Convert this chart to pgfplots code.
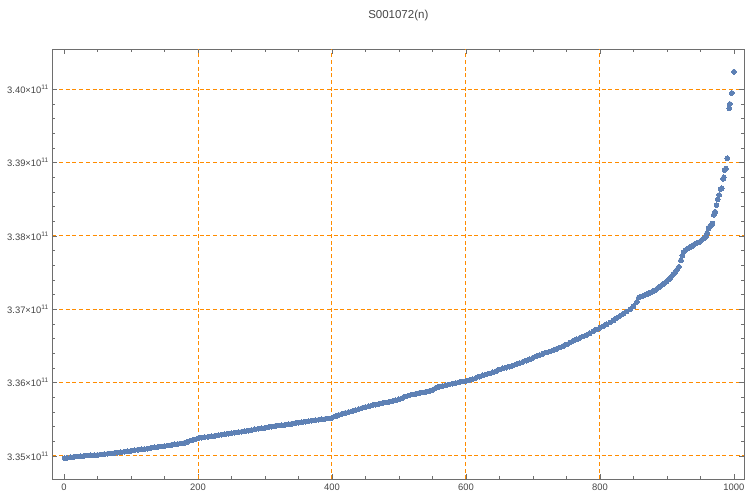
\documentclass[border=0pt]{standalone}
\usepackage{fontspec}
\setmainfont{Liberation Sans}
\usepackage{pgfplots}
\pgfplotsset{compat=1.18}
\definecolor{mblue}{RGB}{94,129,181}
\definecolor{gorange}{RGB}{255,140,0}
\definecolor{framegray}{RGB}{110,110,110}
\definecolor{labgray}{RGB}{70,70,70}
\begin{document}
\begin{tikzpicture}
\path[use as bounding box] (0,0) rectangle (750pt,497pt);
\begin{axis}[
  at={(52.3pt,17.7pt)}, anchor=south west,
  scale only axis, width=692pt, height=430pt,
  xmin=-17.5, xmax=1015.5, ymin=3.34682, ymax=3.40546,
  axis line style={framegray, line width=0.8pt},
  every tick/.style={framegray, line width=0.8pt},
  tick align=inside,
  major tick length=5pt, minor tick length=3pt,
  xtick={0,200,400,600,800,1000},
  xticklabels={0,200,400,600,800,1000},
  minor x tick num=3,
  ytick={3.35,3.36,3.37,3.38,3.39,3.40},
  yticklabels={3.35×10\textsuperscript{11},3.36×10\textsuperscript{11},3.37×10\textsuperscript{11},3.38×10\textsuperscript{11},3.39×10\textsuperscript{11},3.40×10\textsuperscript{11}},
  minor y tick num=4,
  ymajorgrids=true,
  extra x ticks={200,400,600,800},
  extra x tick labels={},
  extra x tick style={grid=major, major tick length=0pt},
  grid style={gorange, line width=1pt, dash pattern=on 4pt off 2.7pt},
  tick label style={font=\fontsize{9.4}{11}\selectfont, text=labgray},
  xticklabel style={yshift=-1pt},
  title={S001072(n)},
  title style={at={(0.5,1)}, anchor=center, yshift=28pt, font=\fontsize{11.5}{13}\selectfont, text=labgray},
]
\addplot[only marks, mark=*, mark size=2.4pt, mark options={fill=mblue, draw=mblue, line width=0pt}] coordinates {
(1,3.34970)(5,3.34975)(10,3.34983)(15,3.34990)(20,3.34994)(25,3.34998)(30,3.35003)(35,3.35006)(40,3.35010)(45,3.35012)
(50,3.35015)(55,3.35020)(60,3.35026)(65,3.35030)(70,3.35035)(75,3.35040)(80,3.35045)(85,3.35052)(90,3.35058)(95,3.35064)
(100,3.35070)(105,3.35078)(110,3.35085)(115,3.35090)(120,3.35095)(125,3.35100)(130,3.35110)(135,3.35118)(140,3.35124)(145,3.35130)
(150,3.35136)(155,3.35142)(160,3.35150)(165,3.35158)(170,3.35164)(175,3.35170)(180,3.35180)(185,3.35195)(190,3.35210)(195,3.35225)
(200,3.35240)(205,3.35250)(210,3.35258)(215,3.35262)(220,3.35268)(225,3.35275)(230,3.35282)(235,3.35290)(240,3.35298)(245,3.35305)
(250,3.35312)(255,3.35318)(260,3.35325)(265,3.35330)(270,3.35338)(275,3.35346)(280,3.35355)(285,3.35365)(290,3.35372)(295,3.35378)
(300,3.35385)(305,3.35392)(310,3.35400)(315,3.35408)(320,3.35415)(325,3.35420)(330,3.35426)(335,3.35432)(340,3.35440)(345,3.35448)
(350,3.35455)(355,3.35462)(360,3.35468)(365,3.35475)(370,3.35482)(375,3.35488)(380,3.35494)(385,3.35500)(390,3.35506)(395,3.35512)
(400,3.35520)(405,3.35540)(410,3.35560)(415,3.35575)(420,3.35588)(425,3.35600)(430,3.35610)(435,3.35625)(440,3.35640)(445,3.35655)
(450,3.35668)(455,3.35680)(460,3.35690)(465,3.35700)(470,3.35710)(475,3.35720)(480,3.35728)(485,3.35738)(490,3.35748)(495,3.35760)
(500,3.35772)(505,3.35790)(510,3.35810)(515,3.35825)(520,3.35838)(525,3.35848)(530,3.35858)(535,3.35866)(540,3.35875)(545,3.35885)
(550,3.35900)(555,3.35930)(560,3.35945)(565,3.35955)(570,3.35965)(575,3.35975)(580,3.35985)(585,3.35995)(590,3.36005)(595,3.36015)
(600,3.36025)(605,3.36035)(610,3.36048)(615,3.36065)(620,3.36082)(625,3.36100)(630,3.36112)(635,3.36125)(640,3.36140)(645,3.36158)
(650,3.36178)(655,3.36195)(660,3.36205)(665,3.36218)(670,3.36232)(675,3.36250)(680,3.36268)(685,3.36285)(690,3.36300)(695,3.36318)
(700,3.36340)(705,3.36360)(710,3.36378)(715,3.36395)(720,3.36410)(725,3.36425)(730,3.36440)(735,3.36460)(740,3.36480)(745,3.36500)
(750,3.36520)(755,3.36545)(760,3.36570)(765,3.36590)(770,3.36610)(775,3.36630)(780,3.36650)(785,3.36675)(790,3.36700)(795,3.36725)
(800,3.36750)(805,3.36770)(810,3.36795)(815,3.36820)(820,3.36850)(825,3.36880)(830,3.36910)(835,3.36940)(840,3.36970)(845,3.37000)
(850,3.37040)(855,3.37100)(858,3.37160)(862,3.37175)(866,3.37190)(870,3.37205)(873,3.37220)(877,3.37235)(881,3.37255)(885,3.37280)
(888,3.37300)(891,3.37320)(894,3.37340)(897,3.37360)(900,3.37385)(903,3.37410)(906,3.37440)(909,3.37475)(912,3.37505)(915,3.37540)
(918,3.37580)(921,3.37670)(923,3.37730)(925,3.37780)(928,3.37810)(931,3.37830)(934,3.37845)(937,3.37860)(940,3.37880)(943,3.37895)
(946,3.37910)(949,3.37920)(952,3.37945)(955,3.37965)(957,3.37985)(959,3.38000)(960,3.38040)(962,3.38100)(964,3.38130)(966,3.38150)
(968,3.38170)(970,3.38290)(972,3.38330)(974,3.38420)(976,3.38500)(978,3.38560)(980,3.38640)(982,3.38650)(984,3.38780)(985,3.38800)
(986,3.38900)(988,3.38920)(990,3.39060)(993,3.39740)(994,3.39800)(997,3.39950)(1000,3.40240)
};
\end{axis}
\end{tikzpicture}
\end{document}
